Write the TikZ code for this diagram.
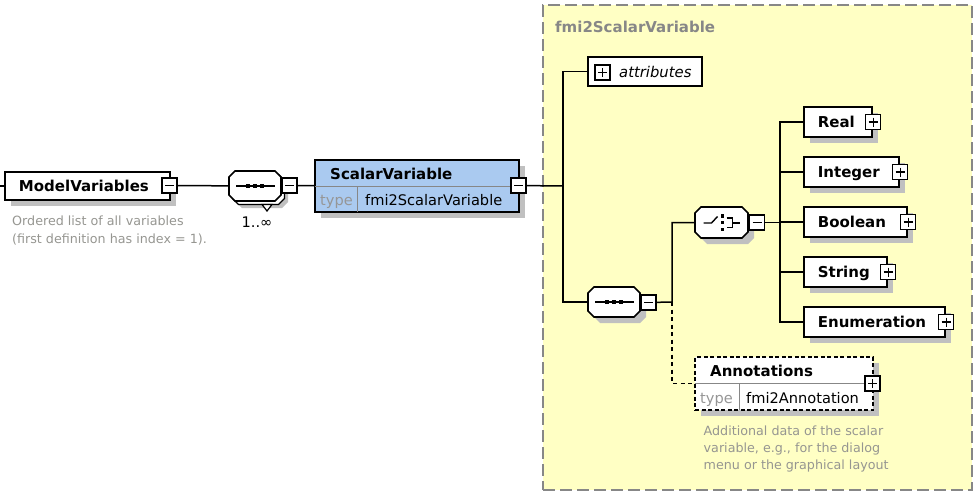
\documentclass[tikz,border=0pt]{standalone}
\usepackage{fontspec}
\setmainfont{DejaVu Sans}
\usetikzlibrary{shadows,calc}
\definecolor{sblue}{RGB}{170,202,240}
\definecolor{ylw}{RGB}{255,255,196}
\definecolor{shgray}{RGB}{192,192,192}
\definecolor{dgray}{RGB}{135,135,135}
\definecolor{tgray}{RGB}{150,150,150}
\definecolor{descgray}{RGB}{150,150,145}
% octagon outline around a (borderless) compositor node; #2 = offset
\newcommand{\octp}[2]{($(#1.north west)+(6+#2,#2)$) -- ($(#1.north east)+(-6+#2,#2)$) -- ($(#1.north east)+(#2,6+#2)$) -- ($(#1.south east)+(#2,-6+#2)$) -- ($(#1.south east)+(-6+#2,#2)$) -- ($(#1.south west)+(6+#2,#2)$) -- ($(#1.south west)+(#2,-6+#2)$) -- ($(#1.north west)+(#2,6+#2)$) -- cycle}
\begin{document}
\begin{tikzpicture}[x=1pt,y=-1pt,
  conn/.style={line width=1.5pt},
  box/.style={rectangle, draw, line width=1.7pt, fill=white, inner ysep=0pt, inner xsep=14pt,
     align=left, text height=11pt, text depth=0pt, font=\bfseries\fontsize{15}{18}\selectfont},
  shd/.style={drop shadow={shadow xshift=6pt, shadow yshift=-6pt, fill=shgray, opacity=1}},
  pmbox/.style={rectangle, draw, line width=1.3pt, fill=white, minimum size=15pt, inner sep=0pt},
  pmminus/.style={pmbox, path picture={\draw[line width=1.3pt] ([xshift=3pt]path picture bounding box.west) -- ([xshift=-3pt]path picture bounding box.east);}},
  pmplus/.style={pmbox, path picture={\draw[line width=1.3pt] ([xshift=3pt]path picture bounding box.west) -- ([xshift=-3pt]path picture bounding box.east);
      \draw[line width=1.3pt] ([yshift=-3pt]path picture bounding box.north) -- ([yshift=3pt]path picture bounding box.south);}},
  comp/.style={rectangle, draw=none, inner sep=0pt, outer sep=0pt, minimum width=52pt, minimum height=30pt},
  octline/.style={line width=1.6pt, fill=white},
  reg/.style={inner sep=0pt, font=\fontsize{14.6}{17}\selectfont},
  bld/.style={inner sep=0pt, font=\bfseries\fontsize{15}{18}\selectfont},
  desc/.style={inner sep=0pt, align=left, text=descgray},
  divline/.style={line width=1.2pt, draw=dgray}
]
\useasboundingbox (0,0) rectangle (977,493);

% container
\node[rectangle, draw=dgray, fill=ylw, line width=1.8pt, dash pattern=on 12pt off 5pt,
      minimum width=429pt, minimum height=485pt, inner sep=0pt] (ct) at (757.5,247.5) {};
\node[bld, text=dgray, anchor=base west] (cttitle) at (555,32.5) {fmi2ScalarVariable};

% ModelVariables
\coordinate (lstub) at (0,186);
\node[box, shd, minimum width=165pt, minimum height=28pt, text width=137pt] (mv) at (87.5,186) {ModelVariables};
\node[pmminus] (mvm) at (169.5,185.5) {};
\node[desc, anchor=north west, font=\fontsize{12.7}{18}\selectfont] (mvd) at (12,215.3)
  {Ordered list of all variables\\(first definition has index = 1).};
\draw[conn] (lstub) -- (mv.west);

% sequence 1 (1..inf)
\node[comp] (seq1) at (255,186) {};
\fill[shgray] \octp{seq1}{7};
\draw[octline, line width=1.2pt] \octp{seq1}{3.5};
\draw[line width=1.2pt, fill=white] ($(seq1.south)+(7,3.5)$) -- ($(seq1.south)+(17,3.5)$) -- ($(seq1.south)+(12,10)$) -- cycle;
\draw[octline] \octp{seq1}{0};
\begin{scope}[shift={(seq1.center)}]
  \draw[line width=1.4pt] (-19,0) -- (20,0);
  \fill (-9,-2.2) rectangle (-4.6,2.2);
  \fill (-2.2,-2.2) rectangle (2.2,2.2);
  \fill (4.6,-2.2) rectangle (9,2.2);
\end{scope}
\node[pmminus] (seq1m) at (289.5,185.5) {};
\node[reg, anchor=base] (seq1lab) at (257,227) {1..∞};
\draw[conn] (mvm) -- (seq1);

% ScalarVariable
\node[rectangle, draw, line width=1.7pt, fill=sblue, shd, minimum width=204pt, minimum height=52pt, inner sep=0pt] (sv) at (417,186) {};
\draw[divline] ($(sv.north west)+(0.9,27)$) -- ($(sv.north east)+(-0.9,27)$);
\draw[divline] ($(sv.north west)+(43,27)$) -- ($(sv.south west)+(43,-0.9)$);
\node[bld, anchor=base west] (svt) at (330,179.5) {ScalarVariable};
\node[reg, anchor=base west, text=tgray] (svtype) at (320,205) {type};
\node[reg, anchor=base west] (svtn) at (365,205) {fmi2ScalarVariable};
\node[pmminus] (svm) at (518.5,185.5) {};
\draw[conn] (seq1m) -- (sv);

% attributes and inner sequence
\coordinate (b1) at (563,186);
\node[rectangle, draw, line width=1.7pt, fill=white, minimum width=114pt, minimum height=29pt, inner sep=0pt] (attr) at (645,71.5) {};
\node[pmplus] (attrp) at (602.5,72.5) {};
\node[reg, anchor=base west, font=\itshape\fontsize{14.8}{17}\selectfont] (attrt) at (619,77.5) {attributes};

\node[comp] (seq2) at (614,302) {};
\fill[shgray] \octp{seq2}{6};
\draw[octline] \octp{seq2}{0};
\begin{scope}[shift={(seq2.center)}]
  \draw[line width=1.4pt] (-19,0) -- (20,0);
  \fill (-9,-2.2) rectangle (-4.6,2.2);
  \fill (-2.2,-2.2) rectangle (2.2,2.2);
  \fill (4.6,-2.2) rectangle (9,2.2);
\end{scope}
\node[pmminus] (seq2m) at (648.5,302.5) {};

\draw[conn] (svm) -- (b1);
\draw[conn] (attr.west) -| (b1) |- (seq2.west);

% choice
\coordinate (b2) at (672,302);
\node[comp, minimum width=53pt, minimum height=31pt] (ch) at (721.5,222.5) {};
\fill[shgray] \octp{ch}{6};
\draw[octline] \octp{ch}{0};
\begin{scope}[shift={(ch.center)}]
  \draw[line width=1.4pt] (-18,0.5) -- (-10,0.5) -- (-4,-6);
  \fill (-0.8,-8.5) rectangle (2.8,-5);
  \fill (-0.8,-1.8) rectangle (2.8,1.8);
  \fill (-0.8,5) rectangle (2.8,8.5);
  \draw[line width=1.4pt] (5,-4.5) -- (11,-4.5) -- (11,5) -- (5,5);
  \draw[line width=1.4pt] (11,0.3) -- (18,0.3);
\end{scope}
\node[pmminus] (chm) at (757,222.5) {};
\draw[conn] (seq2m) -- (b2) |- (ch.west);

% choice children
\coordinate (b3) at (780,222.5);
\node[box, shd, anchor=west, minimum width=68pt,  minimum height=30pt, text width=40pt]  (real) at (803,122) {Real};
\node[box, shd, anchor=west, minimum width=95pt,  minimum height=30pt, text width=67pt]  (int)  at (803,172) {Integer};
\node[box, shd, anchor=west, minimum width=103pt, minimum height=30pt, text width=75pt]  (bool) at (803,222) {Boolean};
\node[box, shd, anchor=west, minimum width=83pt,  minimum height=30pt, text width=55pt]  (str)  at (803,272) {String};
\node[box, shd, anchor=west, minimum width=141pt, minimum height=30pt, text width=113pt] (enum) at (803,322) {Enumeration};
\node[pmplus] (realp) at ($(real.east)+(0.5,0)$) {};
\node[pmplus] (intp)  at ($(int.east)+(0.5,0)$) {};
\node[pmplus] (boolp) at ($(bool.east)+(0.5,0)$) {};
\node[pmplus] (strp)  at ($(str.east)+(0.5,0)$) {};
\node[pmplus] (enump) at ($(enum.east)+(0.5,0)$) {};
\draw[conn] (chm) -- (b3);
\draw[conn] (real.west) -| (b3) |- (enum.west);
\draw[conn] (int.west) -- (int.west -| b3);
\draw[conn] (bool.west) -- (bool.west -| b3);
\draw[conn] (str.west) -- (str.west -| b3);

% Annotations
\node[rectangle, draw, line width=1.5pt, dash pattern=on 4pt off 2.5pt, fill=white, shd,
      minimum width=178pt, minimum height=53pt, inner sep=0pt] (ann) at (784,383.5) {};
\draw[divline] ($(ann.north west)+(0.9,27)$) -- ($(ann.north east)+(-0.9,27)$);
\draw[divline] ($(ann.north west)+(45,27)$) -- ($(ann.south west)+(45,-0.9)$);
\node[bld, anchor=base west] (annt) at (710,376.5) {Annotations};
\node[reg, anchor=base west, text=tgray] (anntype) at (700,403) {type};
\node[reg, anchor=base west] (anntn) at (746,403) {fmi2Annotation};
\node[pmplus] (annp) at (872.5,383.5) {};
\draw[conn, dash pattern=on 4pt off 3.5pt] (b2) |- (ann.west);
\node[desc, anchor=north west, font=\fontsize{12.7}{17}\selectfont] (annd) at (703.5,425.3)
  {Additional data of the scalar\\variable, e.g., for the dialog\\menu or the graphical layout};
\end{tikzpicture}
\end{document}
